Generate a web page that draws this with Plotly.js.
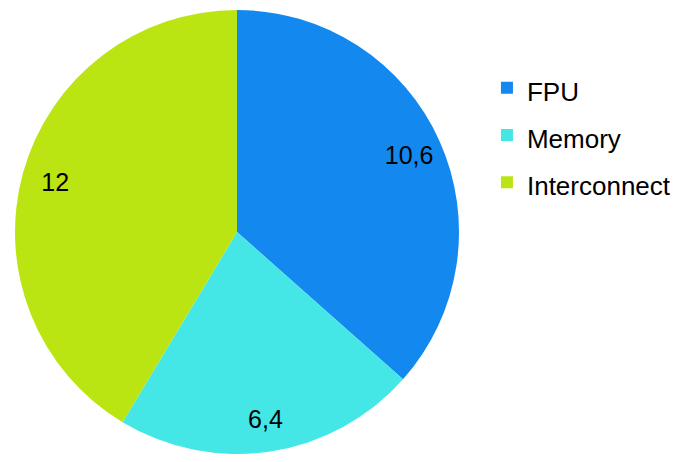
<!DOCTYPE html>
<html><head><meta charset="utf-8">
<script src="https://cdn.plot.ly/plotly-3.0.1.min.js"></script>
<style>html,body{margin:0;padding:0;background:#fff}</style>
</head><body>
<div id="chart" style="width:682px;height:462px"></div>
<script>
const labels = ["FPU", "Memory", "Interconnect"];
const values = [10.6, 6.4, 12];
const colors = ["#1389ef", "#45e6e6", "#bbe512"];

const FONT = "Liberation Sans, Arial, sans-serif";
const dom = {x: [15/682, 459/682], y: [8/462, 452/462]};

const pieTrace = {
  type: "pie",
  labels: labels.map(l => '<span style="font-size:26px">' + l + '</span>'),
  values: values,
  sort: false,
  direction: "clockwise",
  rotation: 0,
  marker: {colors: colors, line: {width: 0}},
  textinfo: "none",
  domain: dom,
  hoverinfo: "none"
};

// transparent ring used only to place the value labels near the rim
const labelTrace = {
  type: "pie",
  labels: labels,
  values: values,
  sort: false,
  direction: "clockwise",
  rotation: 0,
  hole: 0.70,
  marker: {colors: ["rgba(0,0,0,0)", "rgba(0,0,0,0)", "rgba(0,0,0,0)"], line: {width: 0}},
  textinfo: "value",
  textposition: "inside",
  insidetextorientation: "horizontal",
  textfont: {family: FONT, size: 25, color: "#000"},
  domain: dom,
  showlegend: false,
  hoverinfo: "none"
};

const layout = {
  width: 682, height: 462,
  margin: {l: 0, r: 0, t: 0, b: 0},
  separators: ", ",
  paper_bgcolor: "#fff",
  showlegend: true,
  legend: {
    x: 0.714, y: 0.872, xanchor: "left", yanchor: "top",
    font: {family: FONT, size: 34, color: "#000"},
    itemclick: false
  }
};

Plotly.newPlot("chart", [pieTrace, labelTrace], layout, {displayModeBar: false, staticPlot: true});
</script>
</body></html>
